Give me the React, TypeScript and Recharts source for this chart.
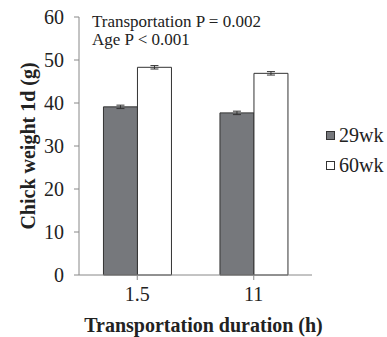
import React from 'react';
import { BarChart, Bar, XAxis, YAxis, ErrorBar, Label } from 'recharts';

const categories = ['1.5', '11'];
const wk29 = [39.1, 37.7];
const wk60 = [48.3, 46.9];
const err29 = [0.4, 0.4];
const err60 = [0.4, 0.4];
const yTicks = [0, 10, 20, 30, 40, 50, 60];
const annotations = ['Transportation P = 0.002', 'Age P < 0.001'];
const seriesNames = ['29wk', '60wk'];
const seriesColors = ['#76787c', '#ffffff'];

const data = categories.map((c, i) => ({
  cat: c,
  wk29: wk29[i],
  wk60: wk60[i],
  e29: err29[i],
  e60: err60[i],
}));

const serif = '"Liberation Serif", "Times New Roman", Times, serif';

export default function App() {
  return (
    <div style={{ position: 'absolute', left: 0, top: 0, width: 387, height: 337, overflow: 'hidden', background: '#fff' }}>
      <BarChart
        width={387}
        height={337}
        data={data}
        margin={{ top: 17, right: 75, left: 0, bottom: 0 }}
        barCategoryGap="21%"
        barGap={0}
        style={{ fontFamily: serif }}
      >
        <XAxis
          dataKey="cat"
          height={62}
          axisLine={{ stroke: '#888' }}
          tickLine={{ stroke: '#888' }}
          tickSize={5}
          tick={{ fill: '#222', fontFamily: serif, fontSize: 20 }}
          tickMargin={7}
          interval={0}
        >
          <Label
            value="Transportation duration (h)"
            position="insideBottom"
            offset={5}
            dx={8}
            style={{ fill: '#222', fontFamily: serif, fontSize: 20, fontWeight: 'bold' }}
          />
        </XAxis>
        <YAxis
          width={79}
          domain={[0, 60]}
          ticks={yTicks}
          axisLine={{ stroke: '#888' }}
          tickLine={{ stroke: '#888' }}
          tickSize={5}
          tickMargin={10}
          tick={{ fill: '#222', fontFamily: serif, fontSize: 20 }}
        >
          <Label
            value="Chick weight 1d (g)"
            angle={-90}
            position="insideLeft"
            offset={28}
            style={{ fill: '#222', fontFamily: serif, fontSize: 20, fontWeight: 'bold', textAnchor: 'middle' }}
          />
        </YAxis>
        <Bar dataKey="wk29" name="29wk" fill="#76787c" stroke="#333" strokeWidth={1} isAnimationActive={false}>
          <ErrorBar dataKey="e29" width={4} stroke="#333" strokeWidth={1} />
        </Bar>
        <Bar dataKey="wk60" name="60wk" fill="#ffffff" stroke="#333" strokeWidth={1} isAnimationActive={false}>
          <ErrorBar dataKey="e60" width={4} stroke="#333" strokeWidth={1} />
        </Bar>
      </BarChart>
      <div style={{ position: 'absolute', left: 92, top: 13, fontFamily: serif, fontSize: 17, color: '#222', lineHeight: '18px', whiteSpace: 'nowrap' }}>
        {annotations.map((a) => (
          <div key={a}>{a}</div>
        ))}
      </div>
      <div style={{ position: 'absolute', left: 326, top: 120, fontFamily: serif, fontSize: 20, color: '#222', whiteSpace: 'nowrap' }}>
        {seriesNames.map((n, i) => (
          <div key={n} style={{ display: 'flex', alignItems: 'center', height: 30 }}>
            <span style={{ display: 'inline-block', width: 7, height: 7, background: seriesColors[i], border: '1px solid #333', marginRight: 4 }} />
            <span>{n}</span>
          </div>
        ))}
      </div>
    </div>
  );
}
